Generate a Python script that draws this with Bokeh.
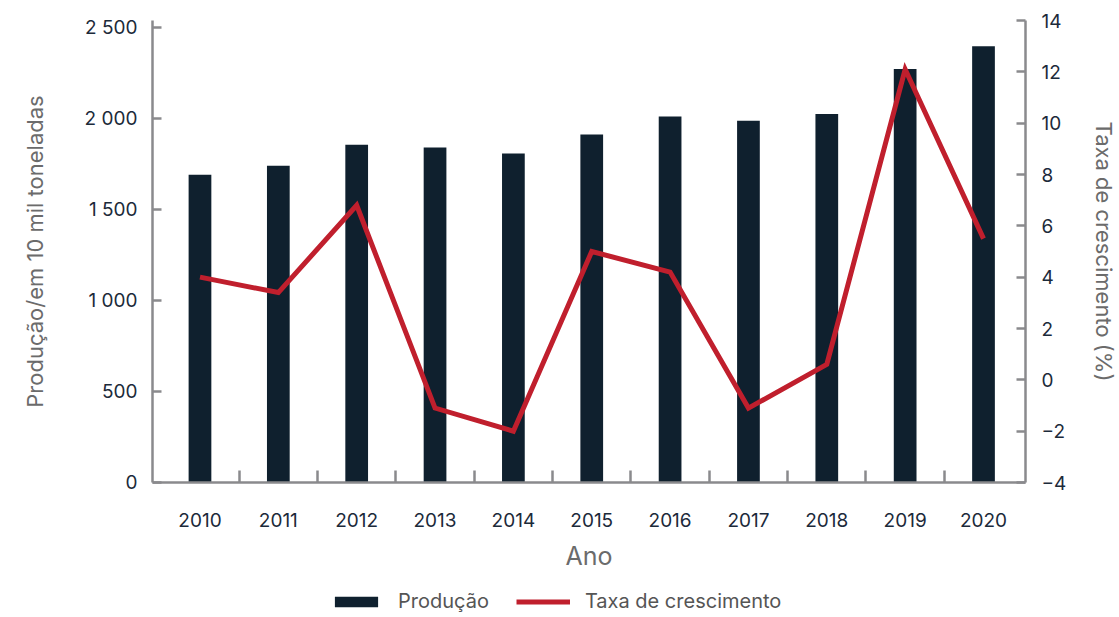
from bokeh.plotting import figure
from bokeh.layouts import column
from bokeh.models import LinearAxis, Range1d, FixedTicker, Legend, LegendItem, ColumnDataSource
from bokeh.embed import file_html
from bokeh.resources import INLINE

years = [2010, 2011, 2012, 2013, 2014, 2015, 2016, 2017, 2018, 2019, 2020]
producao = [1690, 1740, 1855, 1840, 1808, 1912, 2010, 1987, 2025, 2272, 2397]
taxa = [4.0, 3.4, 6.8, -1.1, -2.0, 5.0, 4.2, -1.1, 0.6, 12.1, 5.5]
left_ticks = [0, 500, 1000, 1500, 2000, 2500]
left_labels = ["0", "500", "1 000", "1 500", "2 000", "2 500"]
right_ticks = [-4, -2, 0, 2, 4, 6, 8, 10, 12, 14]
right_labels = ["\u22124", "\u22122", "0", "2", "4", "6", "8", "10", "12", "14"]

FONT = "Inter"
TICK_COLOR = "#1c2a3a"
AXIS_LABEL_COLOR = "#6b6b6b"
AXIS_COLOR = "#8a8a8d"
BAR_COLOR = "#0f202e"
LINE_COLOR = "#c01f2d"

src = ColumnDataSource(dict(x=years, prod=producao, taxa=taxa))

p = figure(output_backend="svg", toolbar_location=None,
           frame_width=873, frame_height=462,
           x_range=Range1d(2009.394, 2020.536), y_range=Range1d(0, 2538),
           min_border_left=152, min_border_top=20, min_border_right=10, min_border_bottom=0)
p.extra_y_ranges = {"rate": Range1d(-4, 14)}

p.outline_line_color = None
p.xgrid.visible = False
p.ygrid.visible = False
p.background_fill_color = "white"
p.border_fill_color = "white"

bars = p.vbar(x="x", top="prod", width=0.29, source=src, fill_color=BAR_COLOR, line_color=None)
line = p.line(x="x", y="taxa", source=src, y_range_name="rate", line_color=LINE_COLOR,
              line_width=5, line_join="miter")

def style_axis(ax):
    ax.axis_line_color = AXIS_COLOR
    ax.axis_line_width = 2.5
    ax.major_tick_line_color = AXIS_COLOR
    ax.major_tick_line_width = 2.5
    ax.minor_tick_line_color = AXIS_COLOR
    ax.minor_tick_line_width = 2.5
    ax.major_label_text_font = FONT
    ax.major_label_text_font_size = "19px"
    ax.major_label_text_color = TICK_COLOR
    ax.axis_label_text_font = FONT
    ax.axis_label_text_font_style = "normal"
    ax.axis_label_text_color = AXIS_LABEL_COLOR

# x axis
xa = p.xaxis[0]
style_axis(xa)
xa.ticker = FixedTicker(ticks=years, minor_ticks=[y + 0.5 for y in years[:-1]])
xa.major_label_overrides = {y: str(y) for y in years}
xa.major_tick_in = 0
xa.major_tick_out = 0
xa.minor_tick_in = 12
xa.minor_tick_out = 0
xa.major_label_standoff = 30
xa.axis_label = "Ano"
xa.axis_label_text_font_size = "25px"
xa.axis_label_standoff = 11

# left axis
ya = p.yaxis[0]
style_axis(ya)
ya.ticker = FixedTicker(ticks=left_ticks, minor_ticks=[])
ya.major_label_overrides = dict(zip(left_ticks, left_labels))
ya.major_tick_in = 9
ya.major_tick_out = 0
ya.minor_tick_in = 0
ya.minor_tick_out = 0
ya.major_label_standoff = 15
ya.axis_label = "Produção/em 10 mil toneladas"
ya.axis_label_text_font_size = "22px"
ya.axis_label_standoff = 34

# right axis
ra = LinearAxis(y_range_name="rate")
style_axis(ra)
ra.ticker = FixedTicker(ticks=right_ticks, minor_ticks=[])
ra.major_label_overrides = dict(zip(right_ticks, right_labels))
ra.major_tick_in = 9
ra.major_tick_out = 0
ra.minor_tick_in = 0
ra.minor_tick_out = 0
ra.major_label_standoff = 16
ra.axis_label = "Taxa de crescimento (%)"
ra.axis_label_text_font_size = "22px"
ra.axis_label_standoff = 22
p.add_layout(ra, "right")

# legend strip: a small figure whose renderers use the same data, kept entirely out of its view
lf = figure(output_backend="svg", toolbar_location=None, width=1100, height=40,
            x_range=Range1d(0, 1), y_range=Range1d(50000, 50001),
            min_border_left=0, min_border_right=0, min_border_top=0, min_border_bottom=0)
lf.xaxis.visible = False
lf.yaxis.visible = False
lf.xgrid.visible = False
lf.ygrid.visible = False
lf.outline_line_color = None
lb = lf.vbar(x="x", top="prod", width=0.29, source=src, fill_color=BAR_COLOR, line_color=None)
ll = lf.line(x="x", y="taxa", source=src, line_color=LINE_COLOR, line_width=5)

legend = Legend(items=[LegendItem(label="Produção", renderers=[lb]),
                       LegendItem(label="Taxa de crescimento", renderers=[ll])],
                orientation="horizontal", location=(177, 0),
                label_text_font=FONT, label_text_font_size="20px", label_text_color="#555555",
                glyph_width=54, glyph_height=13, label_standoff=15, spacing=27,
                border_line_color=None, background_fill_alpha=0, padding=0, margin=0)
lf.add_layout(legend, "center")

layout = column(p, lf, spacing=0)
open("out.html", "w").write(file_html(layout, INLINE))
